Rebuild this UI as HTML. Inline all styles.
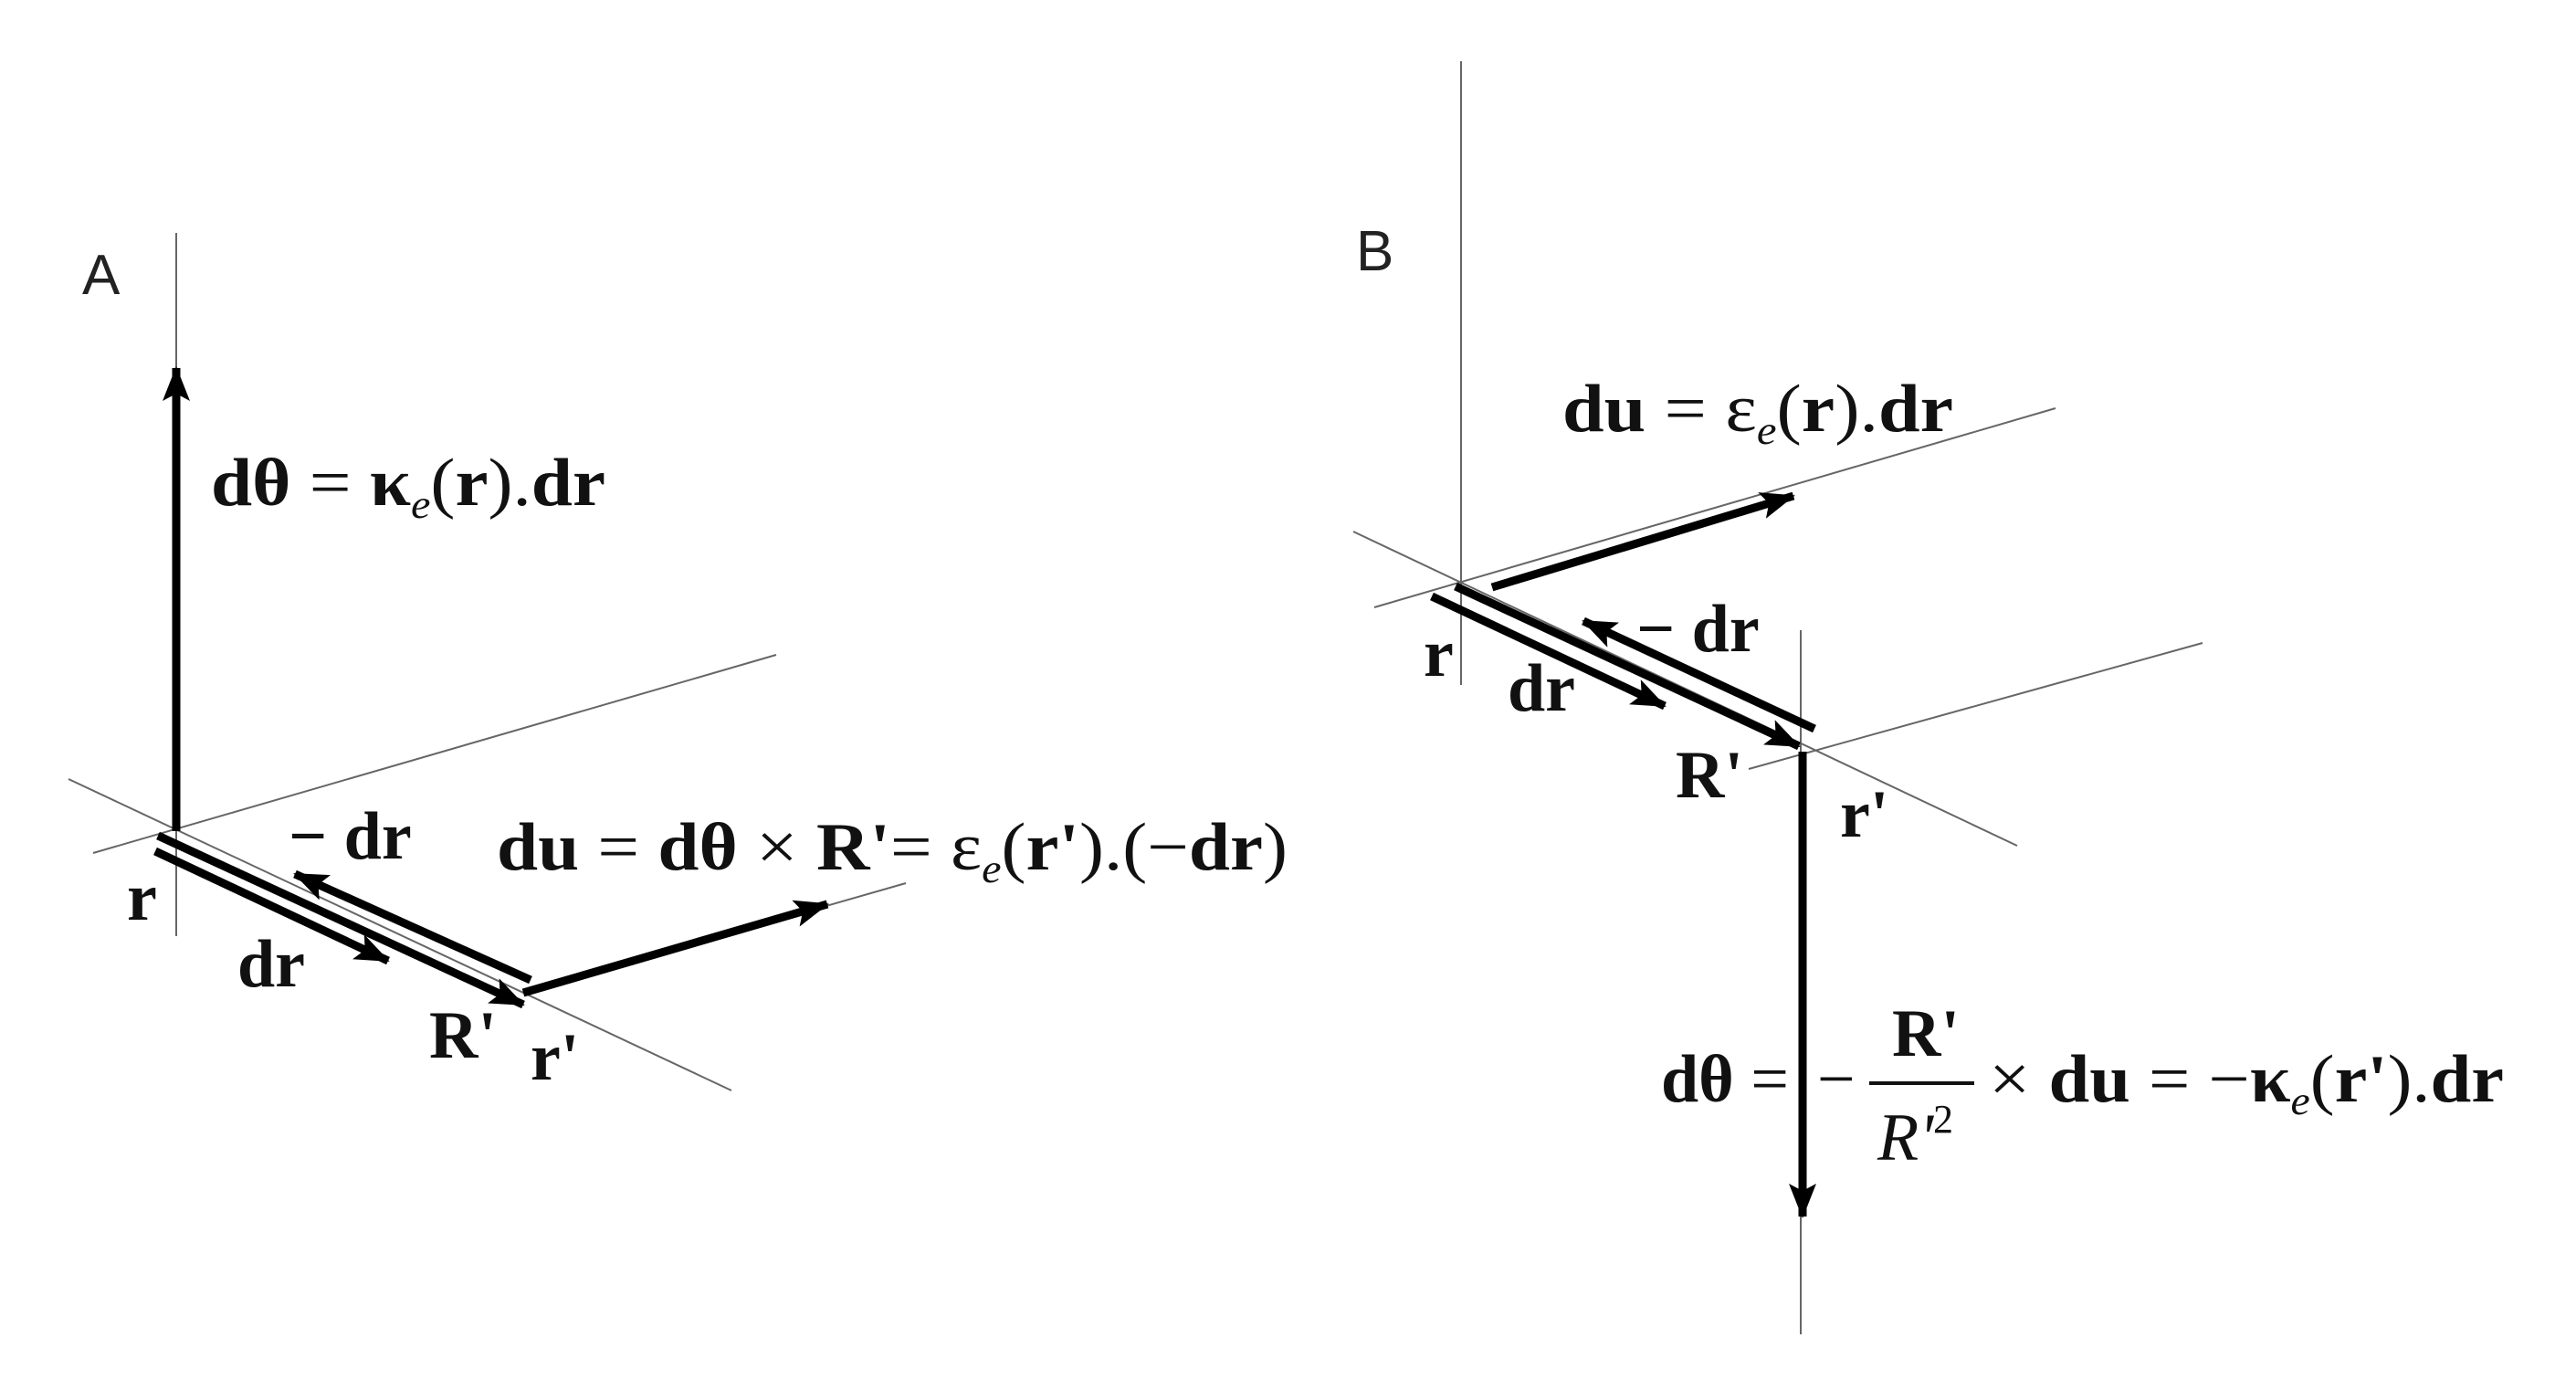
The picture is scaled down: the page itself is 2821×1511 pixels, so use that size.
<!DOCTYPE html>
<html><head><meta charset="utf-8"><style>
html,body{margin:0;padding:0;background:#fff;}
svg{display:block;}
text{font-family:"Liberation Serif",serif;fill:#111;}
.b{font-weight:bold;}
.lab{font-family:"Liberation Sans",sans-serif;font-size:62px;fill:#222;}
</style></head><body>
<svg width="2821" height="1511" viewBox="0 0 2821 1511" xmlns="http://www.w3.org/2000/svg">
<defs>
<marker id="ah" markerUnits="userSpaceOnUse" markerWidth="40" markerHeight="30" refX="36" refY="15" orient="auto">
<path d="M0,0 L38,15 L0,30 L8,15 Z" fill="#000"/>
</marker>
</defs>
<g stroke="#666" stroke-width="2" fill="none">
<line x1="193" y1="255" x2="193" y2="1025"/>
<line x1="102" y1="934" x2="850" y2="717"/>
<line x1="75" y1="853" x2="801" y2="1194"/>
<line x1="573" y1="1087" x2="992" y2="967"/>
<line x1="1600" y1="67" x2="1600" y2="750"/>
<line x1="1505" y1="665" x2="2251" y2="447"/>
<line x1="1482" y1="582" x2="2209" y2="926"/>
<line x1="1972" y1="690" x2="1972" y2="1461"/>
<line x1="1915" y1="842" x2="2412" y2="704"/>
</g>
<g stroke="#000" stroke-width="9" fill="none" marker-end="url(#ah)">
<line x1="193" y1="910" x2="193" y2="403"/>
<line x1="173" y1="915" x2="573" y2="1100"/>
<line x1="170" y1="932" x2="425" y2="1052"/>
<line x1="581" y1="1073" x2="323" y2="957"/>
<line x1="573" y1="1087" x2="906" y2="990"/>
<line x1="1634" y1="643" x2="1964" y2="543"/>
<line x1="1594" y1="642" x2="1970" y2="817"/>
<line x1="1568" y1="653" x2="1823" y2="773"/>
<line x1="1987" y1="798" x2="1734" y2="680"/>
<line x1="1974" y1="823" x2="1974" y2="1332"/>
</g>
<text class="lab" x="90" y="322">A</text>
<text class="lab" x="1485" y="296">B</text>
<g font-size="74">
<text x="231" y="553" textLength="432" lengthAdjust="spacingAndGlyphs"><tspan class="b">dθ</tspan> = <tspan class="b">κ</tspan><tspan font-style="italic" font-size="44" dy="14">e</tspan><tspan dy="-14">(</tspan><tspan class="b">r</tspan>).<tspan class="b">dr</tspan></text>
<text class="b" x="139" y="1007">r</text>
<text class="b" x="316" y="940">− dr</text>
<text class="b" x="260" y="1080">dr</text>
<text class="b" x="470" y="1158">R'</text>
<text class="b" x="581" y="1182">r'</text>
<text x="544" y="952" textLength="866" lengthAdjust="spacingAndGlyphs"><tspan class="b">du</tspan> = <tspan class="b">dθ</tspan> × <tspan class="b">R'</tspan>= ε<tspan font-style="italic" font-size="44" dy="14">e</tspan><tspan dy="-14">(</tspan><tspan class="b">r'</tspan>).(−<tspan class="b">dr</tspan>)</text>
<text x="1711" y="472" textLength="428" lengthAdjust="spacingAndGlyphs"><tspan class="b">du</tspan> = ε<tspan font-style="italic" font-size="44" dy="14">e</tspan><tspan dy="-14">(</tspan><tspan class="b">r</tspan>).<tspan class="b">dr</tspan></text>
<text class="b" x="1559" y="740">r</text>
<text class="b" x="1651" y="778">dr</text>
<text class="b" x="1792" y="713">− dr</text>
<text class="b" x="1835" y="873">R'</text>
<text class="b" x="2015" y="916">r'</text>
<text x="1819" y="1206"><tspan class="b">dθ</tspan> =</text>
<text x="1990" y="1206">−</text>
<line x1="2047" y1="1186" x2="2162" y2="1186" stroke="#111" stroke-width="4"/>
<text class="b" x="2072" y="1156">R'</text>
<text x="2056" y="1270" font-style="italic">R'<tspan font-size="44" font-style="normal" dy="-30">2</tspan></text>
<text x="2178" y="1206" textLength="564" lengthAdjust="spacingAndGlyphs">× <tspan class="b">du</tspan> = −<tspan class="b">κ</tspan><tspan font-style="italic" font-size="44" dy="14">e</tspan><tspan dy="-14">(</tspan><tspan class="b">r'</tspan>).<tspan class="b">dr</tspan></text>
</g>
</svg>
</body></html>
